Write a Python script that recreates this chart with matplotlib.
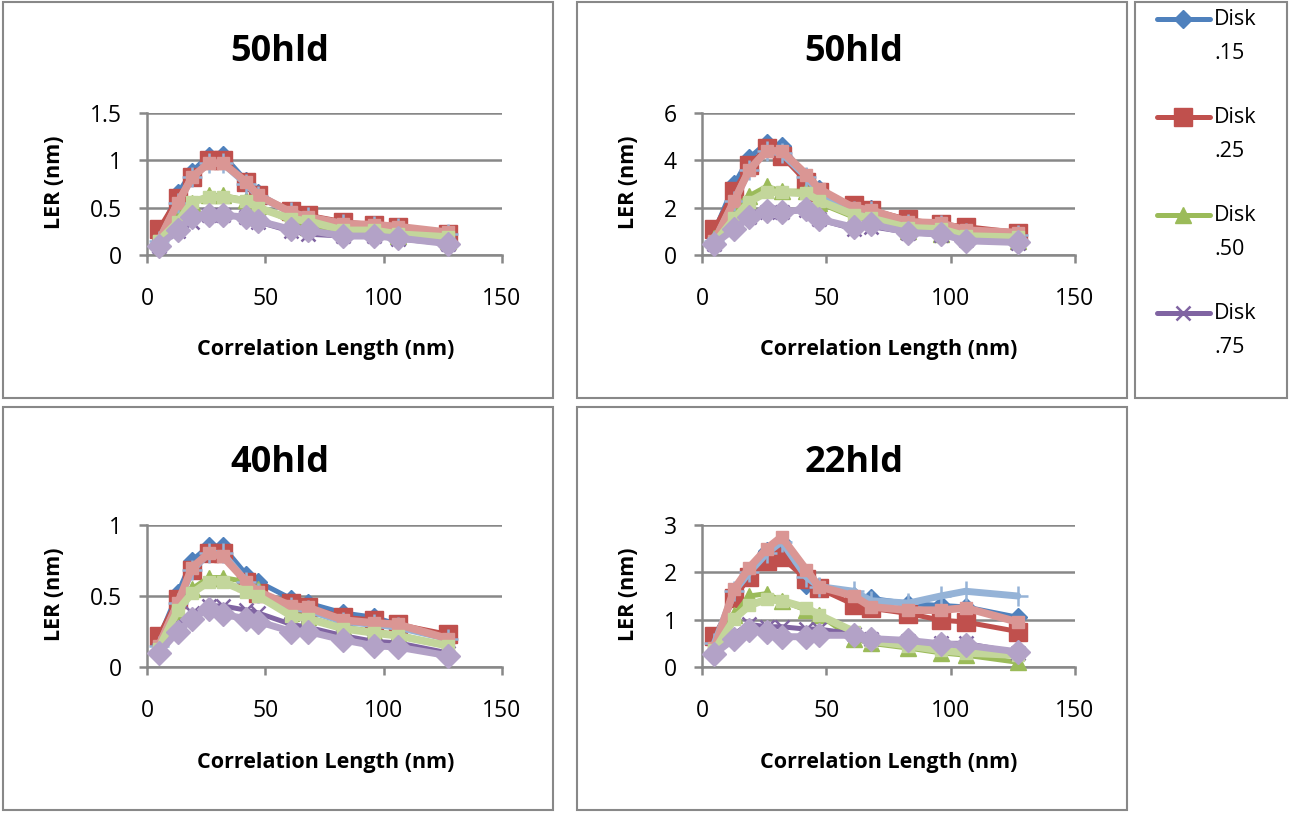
import matplotlib
matplotlib.use("Agg")
import matplotlib.pyplot as plt
from matplotlib.patches import Rectangle

plt.rcParams['font.family'] = ['Open Sans', 'DejaVu Sans']

W, H = 1289, 813

x_nm = [5, 13, 19, 26, 32, 42, 47, 61, 68, 83, 96, 106, 127]

titles = ["50hld", "50hld", "40hld", "22hld"]
yticks_list = [[0, 0.5, 1, 1.5], [0, 2, 4, 6], [0, 0.5, 1], [0, 1, 2, 3]]
ytick_labels = [["0", "0.5", "1", "1.5"], ["0", "2", "4", "6"], ["0", "0.5", "1"], ["0", "1", "2", "3"]]
xticks = [0, 50, 100, 150]
legend_names = ["Disk", "Disk", "Disk", "Disk"]
legend_values = [".15", ".25", ".50", ".75"]

# panel 1 (50hld, top-left)
p1_d15 = [0.2, 0.65, 0.88, 1.05, 1.06, 0.78, 0.65, 0.45, 0.40, 0.32, 0.30, 0.28, 0.20]
p1_d25 = [0.27, 0.60, 0.82, 1.00, 1.00, 0.77, 0.63, 0.47, 0.42, 0.35, 0.32, 0.30, 0.22]
p1_d50 = [0.15, 0.42, 0.55, 0.63, 0.63, 0.58, 0.52, 0.35, 0.30, 0.25, 0.25, 0.20, 0.15]
p1_d75 = [0.10, 0.25, 0.35, 0.42, 0.42, 0.40, 0.35, 0.25, 0.22, 0.20, 0.20, 0.17, 0.12]
p1_l15 = [0.15, 0.55, 0.82, 0.97, 0.97, 0.75, 0.62, 0.45, 0.40, 0.33, 0.31, 0.28, 0.22]
p1_l25 = [0.15, 0.55, 0.82, 0.97, 0.97, 0.77, 0.63, 0.45, 0.40, 0.33, 0.32, 0.30, 0.24]
p1_l50 = [0.15, 0.35, 0.56, 0.61, 0.61, 0.57, 0.50, 0.38, 0.36, 0.26, 0.26, 0.22, 0.19]
p1_l75 = [0.10, 0.26, 0.40, 0.42, 0.42, 0.40, 0.36, 0.27, 0.26, 0.20, 0.20, 0.18, 0.12]

# panel 2 (50hld, top-right)
p2_d15 = [1.0, 3.0, 4.1, 4.75, 4.6, 3.3, 2.8, 2.0, 1.95, 1.4, 1.3, 1.0, 0.9]
p2_d25 = [1.1, 2.7, 3.8, 4.5, 4.2, 3.1, 2.65, 2.1, 1.9, 1.5, 1.3, 1.2, 0.95]
p2_d50 = [0.7, 2.0, 2.5, 2.9, 2.7, 2.7, 2.2, 1.6, 1.5, 1.0, 0.9, 0.8, 0.6]
p2_d75 = [0.45, 1.2, 1.6, 1.8, 1.8, 1.9, 1.5, 1.1, 1.2, 0.95, 0.85, 0.65, 0.5]
p2_l15 = [0.6, 2.3, 3.6, 4.4, 4.3, 3.3, 2.6, 1.85, 1.85, 1.3, 1.25, 0.95, 0.85]
p2_l25 = [0.6, 2.3, 3.6, 4.4, 4.4, 3.4, 2.8, 2.0, 1.9, 1.4, 1.35, 1.05, 0.95]
p2_l50 = [0.5, 1.55, 2.25, 2.65, 2.65, 2.6, 2.3, 1.7, 1.55, 1.15, 1.1, 0.8, 0.75]
p2_l75 = [0.47, 1.1, 1.6, 1.87, 1.8, 1.95, 1.52, 1.17, 1.3, 0.95, 0.89, 0.6, 0.53]

# panel 3 (40hld, bottom-left)
p3_d15 = [0.2, 0.52, 0.75, 0.85, 0.85, 0.65, 0.6, 0.48, 0.45, 0.38, 0.35, 0.3, 0.2]
p3_d25 = [0.22, 0.48, 0.68, 0.8, 0.8, 0.6, 0.52, 0.45, 0.42, 0.35, 0.33, 0.3, 0.23]
p3_d50 = [0.15, 0.38, 0.55, 0.63, 0.63, 0.6, 0.55, 0.38, 0.35, 0.28, 0.25, 0.23, 0.15]
p3_d75 = [0.12, 0.3, 0.38, 0.43, 0.43, 0.4, 0.38, 0.3, 0.28, 0.22, 0.18, 0.17, 0.1]
p3_l15 = [0.15, 0.45, 0.68, 0.8, 0.8, 0.6, 0.52, 0.42, 0.4, 0.32, 0.3, 0.28, 0.2]
p3_l25 = [0.15, 0.45, 0.7, 0.8, 0.78, 0.6, 0.53, 0.43, 0.42, 0.33, 0.31, 0.3, 0.2]
p3_l50 = [0.13, 0.4, 0.52, 0.6, 0.6, 0.53, 0.5, 0.36, 0.34, 0.27, 0.24, 0.22, 0.15]
p3_l75 = [0.1, 0.25, 0.34, 0.41, 0.37, 0.34, 0.32, 0.25, 0.25, 0.19, 0.15, 0.14, 0.08]

# panel 4 (22hld, bottom-right)
p4_d15 = [0.6, 1.5, 1.9, 2.45, 2.65, 1.73, 1.7, 1.5, 1.45, 1.34, 1.3, 1.27, 1.05]
p4_d25 = [0.65, 1.45, 1.9, 2.25, 2.32, 1.85, 1.66, 1.32, 1.24, 1.13, 0.99, 0.95, 0.75]
p4_d50 = [0.45, 1.1, 1.5, 1.55, 1.4, 1.2, 1.1, 0.6, 0.5, 0.4, 0.3, 0.25, 0.1]
p4_d75 = [0.35, 0.7, 0.9, 0.85, 0.85, 0.8, 0.8, 0.7, 0.6, 0.55, 0.5, 0.5, 0.3]
p4_l15 = [0.5, 1.6, 2.0, 2.4, 2.65, 1.9, 1.7, 1.6, 1.4, 1.35, 1.5, 1.6, 1.5]
p4_l25 = [0.4, 1.65, 2.1, 2.5, 2.75, 2.05, 1.7, 1.5, 1.27, 1.2, 1.2, 1.25, 0.95]
p4_l50 = [0.35, 1.02, 1.3, 1.43, 1.4, 1.25, 1.1, 0.75, 0.55, 0.45, 0.35, 0.3, 0.25]
p4_l75 = [0.28, 0.6, 0.78, 0.74, 0.64, 0.64, 0.67, 0.67, 0.6, 0.56, 0.49, 0.46, 0.32]

panels = [
    [p1_d15, p1_d25, p1_d50, p1_d75, p1_l15, p1_l25, p1_l50, p1_l75],
    [p2_d15, p2_d25, p2_d50, p2_d75, p2_l15, p2_l25, p2_l50, p2_l75],
    [p3_d15, p3_d25, p3_d50, p3_d75, p3_l15, p3_l25, p3_l50, p3_l75],
    [p4_d15, p4_d25, p4_d50, p4_d75, p4_l15, p4_l25, p4_l50, p4_l75],
]

styles = [
    dict(color="#4F81BD", marker="D", ms=9.5, lw=3.6, mec="#4F81BD"),
    dict(color="#C0504D", marker="s", ms=12.5, lw=3.6, mec="#C0504D"),
    dict(color="#9BBB59", marker="^", ms=11, lw=3.6, mec="#9BBB59"),
    dict(color="#8064A2", marker="x", ms=10, lw=3.6, mew=1.8, mec="#8064A2"),
    dict(color="#95B3D7", marker="+", ms=14, lw=5.0, mew=1.8, mec="#95B3D7"),
    dict(color="#DA9694", marker="s", ms=9, lw=5.5, mec="#DA9694"),
    dict(color="#C3D69B", marker="s", ms=9, lw=5.5, mec="#C3D69B"),
    dict(color="#B3A2C7", marker="D", ms=12.5, lw=5.0, mec="#B3A2C7"),
]

fig = plt.figure(figsize=(W / 100, H / 100), dpi=100)

# chart boxes
boxes = [(3, 2, 553, 398), (577, 2, 1127, 398), (3, 407, 553, 810), (577, 407, 1127, 810), (1135, 2, 1287, 398)]
for (x0, y0, x1, y1) in boxes:
    fig.patches.append(Rectangle((x0 / W, 1 - y1 / H), (x1 - x0) / W, (y1 - y0) / H,
                                 transform=fig.transFigure, fill=False, ec="#888888", lw=1.5))

# plot areas: (left, right, top_px, bottom_px)
areas = [(147, 502, 113, 255), (702, 1075, 113, 255), (147, 502, 525, 667), (702, 1075, 525, 667)]
title_pos = [(280, 52), (854, 52), (280, 463), (854, 463)]
ylabel_cx = [55, 628, 55, 628]
xlabel_cx = [326, 889, 326, 889]

grid_c = "#888888"
for i, (l, r, t, b) in enumerate(areas):
    ax = fig.add_axes([l / W, 1 - b / H, (r - l) / W, (b - t) / H])
    for k, ys in enumerate(panels[i]):
        st = styles[k]
        ax.plot(x_nm, ys, color=st["color"], lw=st["lw"], marker=st["marker"], ms=st["ms"],
                mec=st.get("mec"), mfc=st.get("mfc", st["color"]), mew=st.get("mew", 1.0),
                clip_on=False, zorder=3 + k, solid_joinstyle="round", solid_capstyle="round")
    yt = yticks_list[i]
    ax.set_xlim(0, 150)
    ax.set_ylim(yt[0], yt[-1])
    ax.set_xticks(xticks)
    ax.set_xticklabels([str(v) for v in xticks], fontsize=16.5)
    ax.set_yticks(yt)
    ax.set_yticklabels(ytick_labels[i], fontsize=16.5)
    ax.yaxis.grid(True, color=grid_c, lw=1.8)
    ax.set_axisbelow(True)
    for s in ["top", "right"]:
        ax.spines[s].set_visible(False)
    for s in ["left", "bottom"]:
        ax.spines[s].set_color(grid_c)
        ax.spines[s].set_linewidth(1.8)
    ax.tick_params(axis="both", direction="out", length=6, width=1.8, color=grid_c)
    ax.tick_params(axis="x", pad=17)
    ax.tick_params(axis="y", pad=12)
    ax.set_xlabel("Correlation Length (nm)", fontsize=15.5, fontweight="bold", va="center")
    ax.xaxis.set_label_coords((xlabel_cx[i] - l) / (r - l), -(350 - 255) / 142)
    ax.set_ylabel("LER (nm)", fontsize=15.5, fontweight="bold", va="center")
    ax.yaxis.set_label_coords((ylabel_cx[i] - l) / (r - l), (255 - 182) / 142)
    tx, ty = title_pos[i]
    fig.text(tx / W, 1 - ty / H, titles[i], fontsize=26, fontweight="bold", ha="center", va="center")

# legend (drawn in pixel-space axes)
lax = fig.add_axes([1135 / W, 1 - 398 / H, 152 / W, 396 / H])
lax.set_xlim(1135, 1287)
lax.set_ylim(398, 2)
lax.axis("off")
entry_y = [19, 117, 215, 313]
for k in range(4):
    st = styles[k]
    y = entry_y[k]
    lax.plot([1157, 1210], [y, y], color=st["color"], lw=st["lw"], solid_capstyle="round")
    lax.plot([1183.5], [y], linestyle="none", marker=st["marker"], ms=st["ms"], color=st["color"],
             mec=st.get("mec"), mew=st.get("mew", 1.0))
    lax.text(1214, y + 1, legend_names[k], fontsize=15.5, ha="left", va="center")
    lax.text(1214, y + 35, legend_values[k], fontsize=15.5, ha="left", va="center")

fig.savefig("out.png", dpi=100)
